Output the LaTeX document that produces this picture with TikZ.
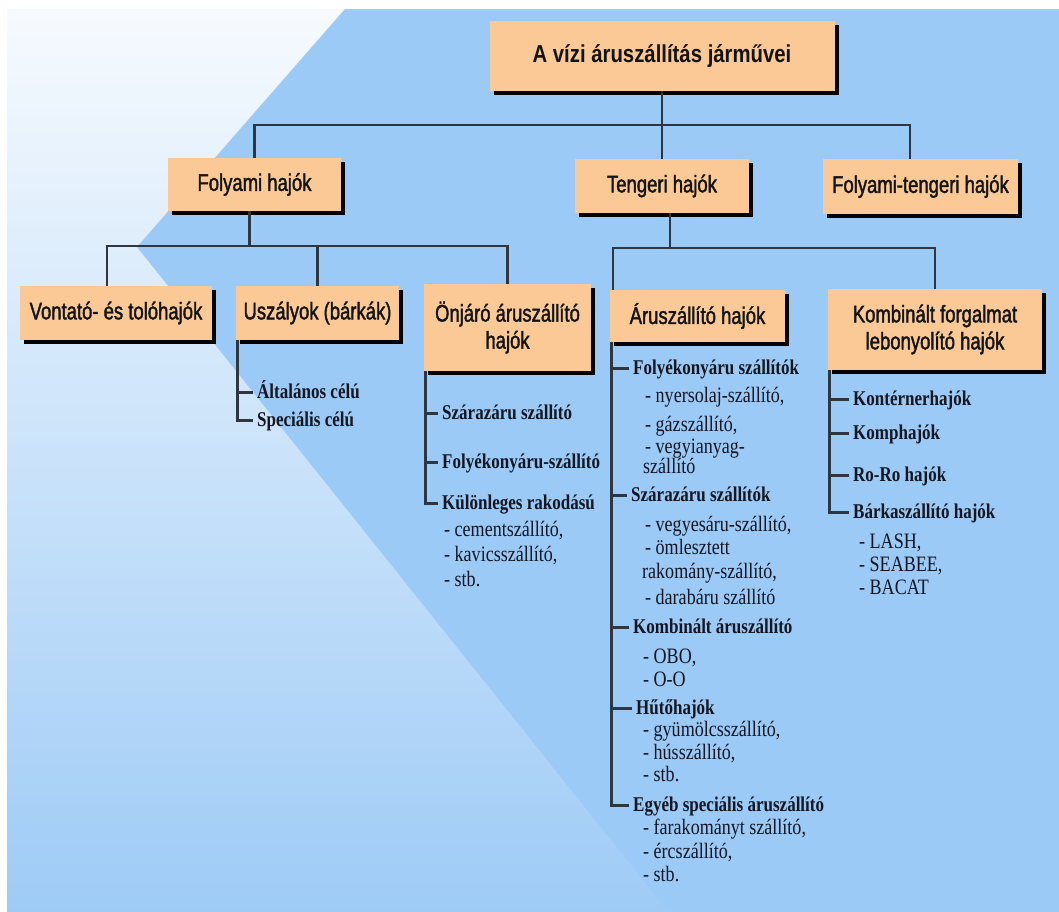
\documentclass[tikz,border=0pt]{standalone}
\usepackage{fontspec}
\setmainfont{Liberation Serif}
\newfontfamily\boxfont[FakeStretch=0.77,FakeBold=1.6]{Liberation Sans}
\newfontfamily\titlefont[FakeStretch=0.83]{Liberation Sans Bold}
\newfontfamily\hdfont[FakeStretch=0.81]{Liberation Serif Bold}
\newfontfamily\itfont[FakeStretch=0.82]{Liberation Serif}
\usetikzlibrary{shadows,calc}
\definecolor{peach}{RGB}{250,201,150}
\definecolor{sea}{RGB}{155,202,246}
\definecolor{ln}{RGB}{48,54,64}
\definecolor{ink}{RGB}{20,22,34}
\definecolor{bgtop}{RGB}{246,250,254}
\definecolor{bgmid}{RGB}{200,224,249}
\definecolor{bgbot}{RGB}{158,203,246}
\newcommand\tickto[2]{\coordinate (#2t) at ([yshift=5.5pt]#2.base west); \draw[conn] (#1 |- #2t) -- (#2t);}
\newcommand\lastto[2]{\coordinate (#2t) at ([yshift=5.5pt]#2.base west); \draw[conn] (#1) |- (#2t);}
\begin{document}
\begin{tikzpicture}[x=1pt,y=-1pt,
  box/.style={fill=peach, inner sep=0pt, align=center, text=black!92,
    font=\boxfont\fontsize{24}{27}\selectfont,
    general shadow={fill=black, shadow xshift=4pt, shadow yshift=-4pt}},
  conn/.style={draw=ln, line width=2.6pt},
  hd/.style={anchor=base west, inner xsep=4pt, inner ysep=0pt, text=ink,
    font=\hdfont\fontsize{21}{22}\selectfont},
  it/.style={anchor=base west, inner xsep=0pt, inner ysep=0pt, text=ink,
    font=\itfont\fontsize{22}{22}\selectfont},
]
\useasboundingbox (0,0) rectangle (1059,911);
\fill[white] (0,0) rectangle (1059,911);
\fill[top color=bgtop, middle color=bgmid, bottom color=bgbot] (7,9) rectangle (1059,911);
\fill[sea] (345,9) -- (1059,9) -- (1059,911) -- (668,911) -- (137,247) -- cycle;

% boxes
\node[box, minimum width=345pt, minimum height=70pt, font=\titlefont\fontsize{24.5}{30}\selectfont] (title) at (662,56) {A vízi áruszállítás járművei};
\node[box, minimum width=173pt, minimum height=53pt] (folyami) at (254.5,184.5) {Folyami hajók};
\node[box, minimum width=174pt, minimum height=54pt] (tengeri) at (662,186) {Tengeri hajók};
\node[box, minimum width=195pt, minimum height=55pt] (ft) at (920.5,186.5) {Folyami-tengeri hajók};
\node[box, minimum width=192pt, minimum height=54pt] (vontato) at (116,313) {Vontató- és tolóhajók};
\node[box, minimum width=163pt, minimum height=54pt] (uszalyok) at (317.5,313) {Uszályok (bárkák)};
\node[box, minimum width=167pt, minimum height=87pt] (onjaro) at (507.5,327.5) {Önjáró áruszállító\\hajók};
\node[box, minimum width=175pt, minimum height=52pt] (aru) at (697.5,316) {Áruszállító hajók};
\node[box, minimum width=214pt, minimum height=81pt] (komb) at (935,329.5) {Kombinált forgalmat\\lebonyolító hajók};

% tree connectors
\coordinate (b1) at (0,125);
\coordinate (b2) at (0,246);
\coordinate (b3) at (0,248);
\draw[conn] (title.south) -- (tengeri.north);
\draw[conn] (folyami.north) |- (title.south |- b1) -| ([xshift=-10.5pt]ft.north);
\draw[conn] ([xshift=-5pt]folyami.south) -- ([xshift=-5pt]folyami.south |- b2);
\draw[conn] ([xshift=-9pt]vontato.north) |- (onjaro.north |- b2) -- (onjaro.north);
\draw[conn] (uszalyok.north) -- (uszalyok.north |- b2);
\draw[conn] ([xshift=8pt]tengeri.south) -- ([xshift=8pt]tengeri.south |- b3);
\draw[conn] ([xshift=3pt]aru.north west) |- (komb.north |- b3) -- (komb.north);

% Uszalyok list
\node[hd] (u1) at (253,398) {Általános célú};
\node[hd] (u2) at (253,426) {Speciális célú};
\coordinate (vu) at ([xshift=1.5pt]uszalyok.south west);
\tickto{vu}{u1}
\lastto{vu}{u2}

% Onjaro list
\node[hd] (o1) at (438,419) {Szárazáru szállító};
\node[hd] (o2) at (438,468) {Folyékonyáru-szállító};
\node[hd] (o3) at (438,509) {Különleges rakodású};
\node[it] (o4) at (444,536) {- cementszállító,};
\node[it] (o5) at (444,561) {- kavicsszállító,};
\node[it] (o6) at (444,586) {- stb.};
\coordinate (vo) at ([xshift=1.5pt]onjaro.south west);
\tickto{vo}{o1}
\tickto{vo}{o2}
\lastto{vo}{o3}

% Aruszallito list
\node[hd] (a1) at (629,374) {Folyékonyáru szállítók};
\node[it] (a2) at (645,402) {- nyersolaj-szállító,};
\node[it] (a3) at (645,431) {- gázszállító,};
\node[it] (a4) at (645,453) {- vegyianyag-};
\node[it] (a5) at (643,473) {szállító};
\node[hd] (a6) at (627,501) {Szárazáru szállítók};
\node[it] (a7) at (645,531) {- vegyesáru-szállító,};
\node[it] (a8) at (645,554) {- ömlesztett};
\node[it] (a9) at (642,578) {rakomány-szállító,};
\node[it] (a10) at (645,604) {- darabáru szállító};
\node[hd] (a11) at (629,633) {Kombinált áruszállító};
\node[it] (a12) at (643,663) {- OBO,};
\node[it] (a13) at (643,686) {- O-O};
\node[hd] (a14) at (632,714) {Hűtőhajók};
\node[it] (a15) at (643,736) {- gyümölcsszállító,};
\node[it] (a16) at (643,759) {- hússzállító,};
\node[it] (a17) at (643,781) {- stb.};
\node[hd] (a18) at (629,811) {Egyéb speciális áruszállító};
\node[it] (a19) at (643,834) {- farakományt szállító,};
\node[it] (a20) at (643,858) {- ércszállító,};
\node[it] (a21) at (643,881) {- stb.};
\coordinate (va) at ([xshift=1.5pt]aru.south west);
\tickto{va}{a1}
\tickto{va}{a6}
\tickto{va}{a11}
\tickto{va}{a14}
\lastto{va}{a18}

% Kombinalt list
\node[hd] (k1) at (849,405) {Kontérnerhajók};
\node[hd] (k2) at (849,439) {Komphajók};
\node[hd] (k3) at (849,481) {Ro-Ro hajók};
\node[hd] (k4) at (849,518) {Bárkaszállító hajók};
\node[it] (k5) at (859,548) {- LASH,};
\node[it] (k6) at (859,571) {- SEABEE,};
\node[it] (k7) at (859,594) {- BACAT};
\coordinate (vk) at ([xshift=1.5pt]komb.south west);
\tickto{vk}{k1}
\tickto{vk}{k2}
\tickto{vk}{k3}
\lastto{vk}{k4}
\end{tikzpicture}
\end{document}
